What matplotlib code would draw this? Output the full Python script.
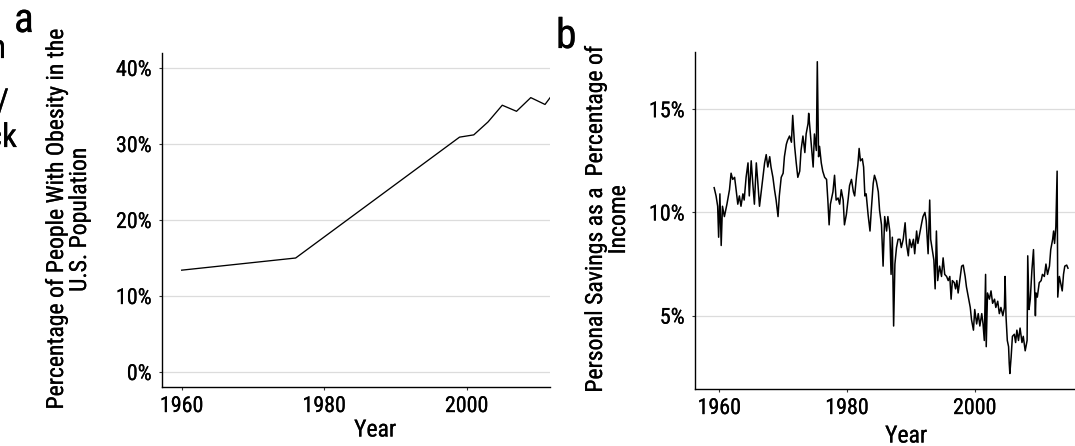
import matplotlib
matplotlib.use("Agg")
import matplotlib.pyplot as plt
from matplotlib.ticker import FuncFormatter
from matplotlib import font_manager as fm
import matplotlib.patheffects as pe

# ---- Panel a: obesity ----
obesity_years = [1960, 1976, 1999, 2001, 2003, 2005, 2007, 2009, 2011, 2013]
obesity_pct = [13.4, 15.0, 30.9, 31.2, 32.9, 35.1, 34.3, 36.1, 35.2, 37.7]
a_yticks = [0, 10, 20, 30, 40]
a_xticks = [1960, 1980, 2000]

# ---- Panel b: personal savings rate ----
savings_years = [
    1959.2, 1959.5, 1959.75, 1959.9, 1960.1, 1960.3, 1960.5, 1960.8, 1961.2, 1961.6,
    1961.85, 1962.1, 1962.4, 1962.6, 1962.9, 1963.15, 1963.4, 1963.7, 1963.9, 1964.2,
    1964.5, 1964.7, 1965.0, 1965.25, 1965.5, 1965.8, 1966.0, 1966.3, 1966.6, 1966.8,
    1967.1, 1967.35, 1967.6, 1967.9, 1968.1, 1968.4, 1968.65, 1968.9, 1969.2, 1969.4,
    1969.7, 1970.0, 1970.2, 1970.5, 1970.7, 1971.0, 1971.3, 1971.5, 1971.8, 1972.05,
    1972.3, 1972.6, 1972.8, 1973.1, 1973.4, 1973.6, 1973.9, 1974.0, 1974.4, 1974.7,
    1974.9, 1975.2, 1975.35, 1975.55, 1975.7, 1975.97, 1976.2, 1976.5, 1976.8, 1977.0,
    1977.2, 1977.4, 1977.8, 1978.05, 1978.3, 1978.6, 1978.85, 1979.1, 1979.4, 1979.6,
    1979.9, 1980.2, 1980.4, 1980.7, 1981.0, 1981.2, 1981.5, 1981.7, 1981.9, 1982.1,
    1982.4, 1982.6, 1982.8, 1983.0, 1983.3, 1983.6, 1983.8, 1984.1, 1984.3, 1984.6,
    1984.9, 1985.1, 1985.4, 1985.65, 1985.9, 1986.2, 1986.4, 1986.7, 1986.9, 1987.1,
    1987.3, 1987.5, 1987.75, 1988.0, 1988.3, 1988.5, 1988.8, 1989.1, 1989.3, 1989.6,
    1989.8, 1990.1, 1990.4, 1990.6, 1990.9, 1991.1, 1991.4, 1991.7, 1991.9, 1992.2,
    1992.4, 1992.7, 1992.95, 1993.1, 1993.3, 1993.6, 1993.8, 1994.0, 1994.2, 1994.5,
    1994.8, 1995.05, 1995.3, 1995.6, 1995.85, 1996.1, 1996.3, 1996.5, 1996.8, 1997.0,
    1997.2, 1997.4, 1997.7, 1997.95, 1998.2, 1998.5, 1998.7, 1999.0, 1999.3, 1999.5,
    1999.8, 2000.0, 2000.3, 2000.55, 2000.8, 2001.1, 2001.3, 2001.5, 2001.7, 2001.8,
    2002.0, 2002.3, 2002.55, 2002.8, 2003.1, 2003.3, 2003.6, 2003.85, 2004.1, 2004.4,
    2004.65, 2004.75, 2004.9, 2005.1, 2005.3, 2005.4, 2005.5, 2005.7, 2005.9, 2006.2,
    2006.4, 2006.6, 2006.85, 2007.1, 2007.4, 2007.6, 2007.9, 2008.2, 2008.3, 2008.5,
    2008.7, 2008.95, 2009.2, 2009.5, 2009.6, 2009.8, 2010.1, 2010.4, 2010.6, 2010.9,
    2011.15, 2011.4, 2011.7, 2011.9, 2012.2, 2012.35, 2012.5, 2012.7, 2012.9, 2013.0,
    2013.25, 2013.45, 2013.7, 2013.9, 2014.1, 2014.4, 2014.6,
]
savings_pct = [
    11.2, 10.8, 10.3, 8.8, 10.9, 8.4, 10.3, 9.8, 10.4, 11.1,
    11.9, 11.6, 11.7, 11.2, 10.4, 10.8, 10.3, 10.9, 10.6, 11.7,
    12.4, 10.8, 12.5, 11.4, 10.4, 12.4, 11.6, 10.3, 11.1, 11.6,
    12.4, 12.8, 12.2, 12.7, 12.2, 11.7, 11.1, 10.6, 9.8, 10.8,
    11.7, 11.9, 12.7, 13.3, 13.5, 13.7, 13.4, 14.7, 13.2, 12.4,
    11.7, 12.0, 13.0, 13.7, 12.9, 13.8, 14.3, 14.8, 13.3, 12.2,
    13.8, 13.0, 17.3, 12.7, 13.2, 12.4, 12.0, 11.7, 11.6, 10.6,
    9.4, 10.4, 11.0, 11.8, 10.6, 10.7, 10.4, 11.1, 10.6, 9.4,
    9.9, 10.7, 11.3, 11.6, 11.0, 10.8, 11.8, 12.3, 13.1, 12.5,
    12.6, 12.2, 10.8, 10.9, 9.9, 9.1, 10.1, 11.4, 11.8, 11.5,
    11.0, 10.1, 9.4, 7.4, 9.8, 9.1, 9.8, 9.1, 7.0, 8.8,
    4.5, 7.5, 8.3, 8.7, 8.7, 8.3, 8.7, 9.5, 8.5, 7.9,
    8.7, 8.3, 8.7, 8.0, 9.1, 8.5, 9.0, 9.5, 9.8, 10.0,
    9.6, 8.0, 10.6, 8.7, 8.3, 7.7, 6.3, 9.1, 6.7, 7.4,
    6.9, 7.8, 7.0, 6.9, 6.7, 6.9, 5.8, 6.7, 6.6, 6.3,
    6.7, 6.1, 6.8, 7.4, 7.45, 6.9, 6.4, 5.9, 5.4, 4.8,
    4.3, 5.3, 4.6, 5.1, 4.5, 5.1, 4.6, 3.8, 7.0, 3.5,
    6.1, 5.8, 6.2, 5.6, 5.8, 5.4, 5.7, 5.1, 5.4, 5.0,
    5.4, 6.9, 4.95, 3.8, 3.5, 2.7, 2.2, 3.0, 4.0, 4.1,
    3.7, 4.3, 3.8, 4.4, 3.7, 4.0, 3.3, 3.8, 7.9, 5.3,
    5.8, 7.2, 8.2, 5.0, 6.1, 5.9, 6.6, 6.7, 7.0, 6.9,
    7.5, 7.0, 7.4, 8.2, 8.7, 9.1, 8.5, 9.3, 12.0, 5.9,
    6.9, 6.6, 6.2, 7.0, 7.4, 7.45, 7.3,
]
b_yticks = [5, 10, 15]
b_xticks = [1960, 1980, 2000]

# ---- pick a narrow / condensed sans font if one is installed ----
def pick_font():
    prefs = ['Liberation Sans Narrow', 'Arial Narrow', 'Roboto Condensed',
             'Open Sans Condensed', 'Noto Sans Condensed', 'DejaVu Sans Condensed']
    fl = fm.fontManager.ttflist
    def regular(f):
        n = (f.fname or '').lower()
        return ('bold' not in n and 'italic' not in n and 'oblique' not in n
                and 'light' not in n and 'thin' not in n and 'black' not in n
                and 'medium' not in n and f.weight in (400, 'normal', 'regular')
                and f.style == 'normal')
    for p in prefs:
        for f in fl:
            if f.name == p and regular(f):
                return f.fname
    for f in fl:
        n = (f.fname or '').lower()
        if (('condensed' in n or 'narrow' in n) and 'semi' not in n
                and 'extra' not in n and 'ultra' not in n and regular(f)
                and any(k in n for k in ('roboto', 'noto', 'dejavu', 'liberation', 'open'))):
            return f.fname
    for f in fl:
        if f.stretch in ('condensed', 'semi-condensed') and regular(f):
            return f.fname
    return None

fpath = pick_font()
if fpath:
    FP = fm.FontProperties(fname=fpath)
else:
    FP = fm.FontProperties(family='Liberation Sans', stretch='condensed')

W, H = 1075, 446
fig = plt.figure(figsize=(W / 100, H / 100), dpi=100)
renderer = fig.canvas.get_renderer()

def size_for(s, target_w):
    t = fig.text(0, 0, s, fontproperties=FP, fontsize=10)
    w = t.get_window_extent(renderer).width
    t.remove()
    return 10 * target_w / w

tick_size = size_for("1960", 43)
title_size = size_for("Personal Savings as a  Percentage of", 345)
letter_size = title_size * 1.75
thick = [pe.withStroke(linewidth=0.15, foreground='black')]

def px_axes(l, t, r, b):
    return fig.add_axes([l / W, (H - b) / H, (r - l) / W, (b - t) / H])

pct = FuncFormatter(lambda v, p: f"{v:.0f}%")

def style(ax):
    for s in ['top', 'right']:
        ax.spines[s].set_visible(False)
    for s in ['left', 'bottom']:
        ax.spines[s].set_color('black')
        ax.spines[s].set_linewidth(1.0)
    ax.grid(axis='y', color='#dcdcdc', linewidth=0.9)
    ax.grid(axis='x', visible=False)
    ax.set_axisbelow(True)
    ax.tick_params(axis='both', length=2.5, width=0.8, color='#333333',
                   labelcolor='black')
    ax.tick_params(axis='y', pad=5)
    ax.tick_params(axis='x', pad=4)
    ax.yaxis.set_major_formatter(pct)
    for lbl in ax.get_xticklabels() + ax.get_yticklabels():
        lbl.set_fontproperties(FP)
        lbl.set_fontsize(tick_size)
        lbl.set_path_effects(thick)

# Panel a
ax_a = px_axes(162, 53, 550, 387)
ax_a.plot(obesity_years, obesity_pct, color='black', linewidth=0.95)
ax_a.set_xlim(1957.24, 2011.7)
ax_a.set_ylim(-1.97, 41.97)
ax_a.set_xticks(a_xticks)
ax_a.set_yticks(a_yticks)
style(ax_a)

# Panel b
ax_b = px_axes(695, 52, 1075, 389)
ax_b.plot(savings_years, savings_pct, color='black', linewidth=1.1)
ax_b.set_xlim(1956.2, 2015.7)
ax_b.set_ylim(1.45, 17.77)
ax_b.set_xticks(b_xticks)
ax_b.set_yticks(b_yticks)
style(ax_b)

def ftext(x, y, s, **kw):
    fig.text(x / W, (H - y) / H, s, fontproperties=FP, path_effects=thick, **kw)

title_kw = dict(fontsize=title_size, color='black', ha='center', va='center',
                multialignment='center', linespacing=1.0)
ftext(375, 430, "Year", **title_kw)
ftext(906, 436, "Year", **title_kw)
ftext(68, 220, "Percentage of People With Obesity in the\nU.S. Population",
      rotation=90, **title_kw)
ftext(607, 220, "Personal Savings as a  Percentage of\nIncome",
      rotation=90, **title_kw)

ftext(14, 32, "a", fontsize=letter_size, ha='left', va='baseline')
ftext(556, 48, "b", fontsize=letter_size, ha='left', va='baseline')

# cropped fragments at the left edge
ftext(6, 58, "n", fontsize=letter_size * 0.8, ha='right', va='baseline')
ftext(9, 112, "/", fontsize=letter_size * 0.8, ha='right', va='baseline')
ftext(17, 147, "ck", fontsize=letter_size * 0.8, ha='right', va='baseline')

fig.savefig("out.png", dpi=100)
